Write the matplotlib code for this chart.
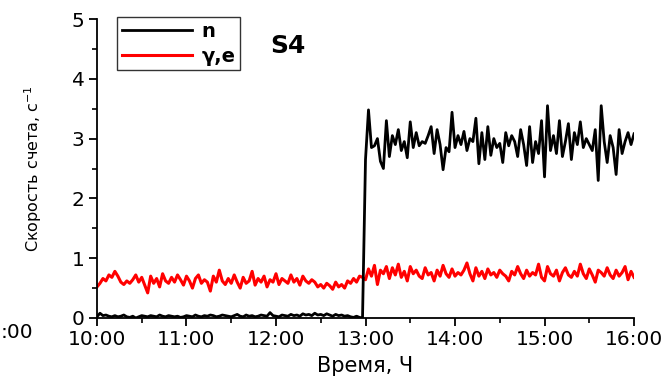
import numpy as np
import matplotlib.pyplot as plt
from matplotlib.ticker import MultipleLocator, FuncFormatter

plt.rcParams['font.family'] = ['DejaVu Sans']

# time axis, minutes after 10:00, 2-minute step
t_pre = np.arange(0, 180, 2)
t_post = np.arange(180, 362, 2)

n_pre = [0.02, 0.08, 0.04, 0.05, 0.03, 0.02, 0.04, 0.02, 0.03, 0.05,
         0.02, 0.01, 0.03, 0.00, 0.02, 0.04, 0.03, 0.02, 0.04, 0.03,
         0.02, 0.05, 0.03, 0.02, 0.04, 0.03, 0.02, 0.03, 0.01, 0.02,
         0.04, 0.03, 0.02, 0.05, 0.03, 0.02, 0.04, 0.03, 0.05, 0.04,
         0.02, 0.03, 0.05, 0.04, 0.03, 0.02, 0.04, 0.06, 0.03, 0.02,
         0.05, 0.03, 0.04, 0.02, 0.03, 0.05, 0.04, 0.03, 0.09, 0.04,
         0.03, 0.02, 0.05, 0.04, 0.03, 0.06, 0.04, 0.05, 0.03, 0.07,
         0.05, 0.06, 0.04, 0.08, 0.05, 0.06, 0.04, 0.07, 0.05, 0.03,
         0.06, 0.04, 0.05, 0.03, 0.04, 0.02, 0.01, 0.03, 0.01, 0.00]

n_post = [2.65, 3.48, 2.85, 2.88, 3.00, 2.62, 2.50, 3.30, 2.70, 3.05,
          2.90, 3.15, 2.80, 2.95, 2.68, 3.28, 2.85, 3.10, 2.88, 2.95,
          2.92, 3.05, 3.20, 2.75, 3.15, 2.90, 2.48, 2.85, 2.78, 3.44,
          2.85, 3.05, 2.90, 3.12, 2.80, 3.00, 2.95, 3.34, 2.58, 3.10,
          2.65, 3.20, 2.72, 3.00, 2.85, 2.92, 2.60, 3.10, 2.88, 3.05,
          2.95, 2.70, 3.15, 2.90, 2.55, 3.20, 2.60, 2.95, 2.75, 3.30,
          2.36, 3.55, 2.80, 3.05, 2.75, 3.30, 2.70, 2.95, 3.25, 2.65,
          3.10, 2.90, 3.28, 2.85, 3.00, 2.90, 2.80, 3.15, 2.30, 3.55,
          2.95, 2.60, 3.05, 2.85, 2.40, 3.15, 2.75, 2.95, 3.10, 2.90,
          3.08]

ge_pre = [0.52, 0.58, 0.66, 0.62, 0.72, 0.68, 0.78, 0.70, 0.60, 0.56,
          0.62, 0.58, 0.64, 0.72, 0.60, 0.68, 0.55, 0.42, 0.70, 0.58,
          0.66, 0.52, 0.74, 0.62, 0.58, 0.68, 0.60, 0.72, 0.64, 0.55,
          0.70, 0.62, 0.50, 0.66, 0.72, 0.58, 0.64, 0.60, 0.45, 0.70,
          0.60, 0.80, 0.62, 0.56, 0.66, 0.58, 0.72, 0.60, 0.50, 0.68,
          0.58, 0.62, 0.78, 0.55, 0.66, 0.60, 0.70, 0.52, 0.64, 0.60,
          0.74, 0.56, 0.66, 0.62, 0.58, 0.72, 0.60, 0.66, 0.55, 0.70,
          0.62, 0.58, 0.64, 0.60, 0.52, 0.56, 0.50, 0.58, 0.54, 0.48,
          0.60, 0.52, 0.56, 0.50, 0.62, 0.58, 0.66, 0.60, 0.70, 0.68]

ge_post = [0.64, 0.82, 0.70, 0.88, 0.56, 0.80, 0.74, 0.86, 0.66, 0.84,
           0.72, 0.90, 0.68, 0.78, 0.62, 0.86, 0.74, 0.80, 0.70, 0.66,
           0.84, 0.72, 0.76, 0.62, 0.80, 0.70, 0.88, 0.74, 0.68, 0.82,
           0.70, 0.76, 0.72, 0.80, 0.92, 0.74, 0.62, 0.84, 0.70, 0.78,
           0.66, 0.82, 0.72, 0.76, 0.68, 0.80, 0.74, 0.70, 0.62, 0.78,
           0.72, 0.86, 0.74, 0.66, 0.80, 0.70, 0.76, 0.72, 0.90, 0.68,
           0.62, 0.86, 0.74, 0.70, 0.80, 0.62, 0.76, 0.84, 0.72, 0.68,
           0.78, 0.70, 0.90, 0.74, 0.66, 0.82, 0.72, 0.60, 0.80, 0.76,
           0.70, 0.84, 0.72, 0.66, 0.80, 0.70, 0.76, 0.86, 0.64, 0.78,
           0.68]

t = np.concatenate([t_pre, t_post])
n_rate = np.concatenate([n_pre, n_post])
ge_rate = np.concatenate([ge_pre, ge_post])

fig = plt.figure(figsize=(6.72, 3.77), dpi=100)
ax = fig.add_axes([0.1443, 0.1565, 0.7992, 0.7931])

ax.plot(t, ge_rate, color='#ff0000', lw=2.2, label='γ,e', zorder=2)
ax.plot(t, n_rate, color='black', lw=2.0, label='n', zorder=3)

ax.set_xlim(0, 360)
ax.set_ylim(0, 5)
ax.xaxis.set_major_locator(MultipleLocator(60))
ax.xaxis.set_minor_locator(MultipleLocator(30))
ax.yaxis.set_major_locator(MultipleLocator(1))
ax.yaxis.set_minor_locator(MultipleLocator(0.5))
ax.xaxis.set_major_formatter(FuncFormatter(lambda v, p: f"{10 + int(v) // 60}:00"))

for s in ['top', 'right']:
    ax.spines[s].set_visible(False)
for s in ['left', 'bottom']:
    ax.spines[s].set_linewidth(1.3)
ax.tick_params(which='major', direction='out', length=6, width=1.3, labelsize=14.5, pad=3)
ax.tick_params(which='minor', direction='out', length=3.5, width=1.2)

ax.set_xlabel('Время, Ч', fontsize=15, labelpad=5)
ax.set_ylabel('Скорость счета, с$^{-1}$', fontsize=11.5, labelpad=20)

leg = ax.legend(handles=ax.get_lines()[::-1], loc='upper left',
                bbox_to_anchor=(0.037, 1.007), borderaxespad=0,
                frameon=True, fancybox=False,
                edgecolor='black', handlelength=3.6, borderpad=0.25,
                labelspacing=0.3, handletextpad=0.5,
                prop={'weight': 'bold', 'size': 14})
leg.get_frame().set_linewidth(1.0)

ax.text(0.322, 0.885, 'S4', transform=ax.transAxes, fontsize=18, fontweight='bold')

# piece of the neighbouring panel at the left edge
fig.text(1 / 672, 1 - 333 / 377, ':00', ha='left', va='center', fontsize=14.5)

fig.savefig('out.png', dpi=100)
